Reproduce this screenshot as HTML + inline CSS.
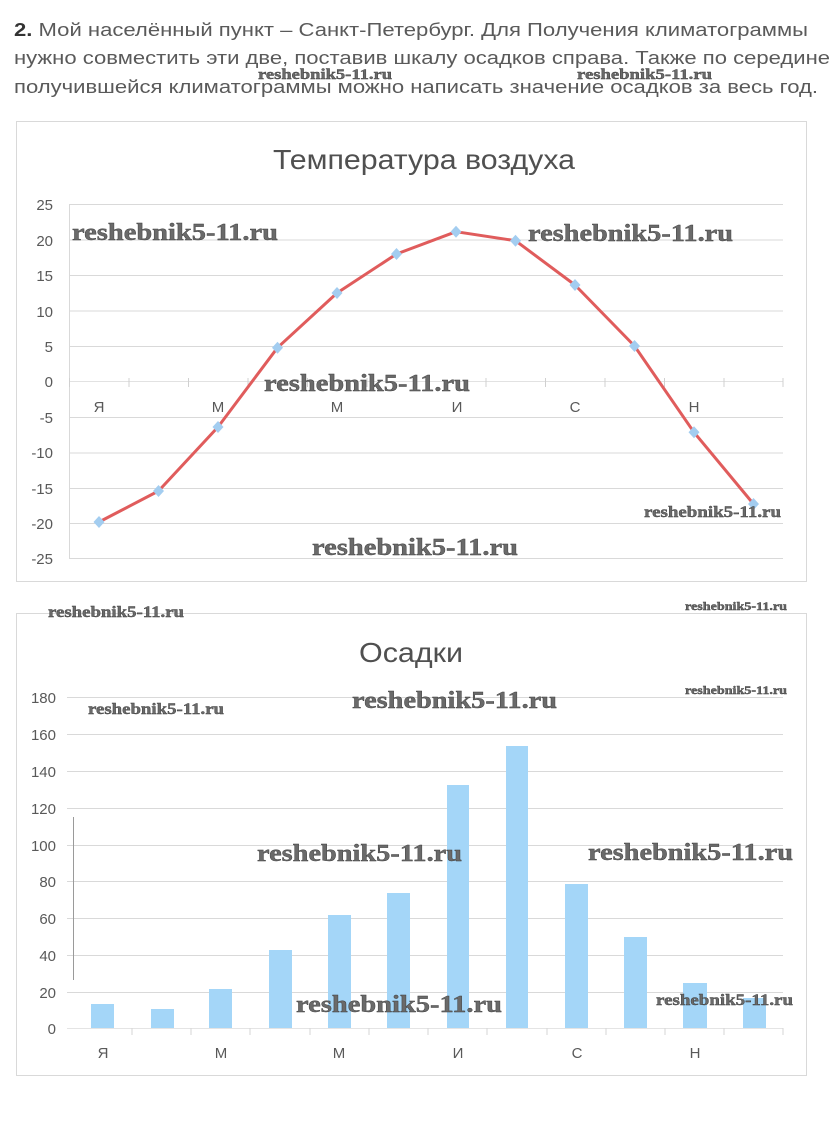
<!DOCTYPE html>
<html><head><meta charset="utf-8"><style>
html,body{margin:0;padding:0;background:#fff;}
svg{display:block;}
.p{font-family:"Liberation Sans","Noto Sans CJK SC",sans-serif;font-size:18px;fill:#5a5a5a;}
.ax{font-family:"Liberation Sans","Noto Sans CJK SC",sans-serif;font-size:15px;fill:#595959;}
.t{font-family:"Liberation Sans","Noto Sans CJK SC",sans-serif;fill:#505050;}
.w{font-family:"Liberation Serif",serif;font-weight:bold;fill:#6a6a6a;stroke:#3a3a3a;stroke-width:0.4;}
</style></head><body>
<svg width="838" height="1137" viewBox="0 0 838 1137" xmlns="http://www.w3.org/2000/svg">
<rect width="838" height="1137" fill="#fff"/>
<!-- paragraph -->
<text class="p" x="14" y="36" textLength="794" lengthAdjust="spacingAndGlyphs"><tspan font-weight="bold" fill="#333">2.</tspan> Мой населённый пункт – Санкт-Петербург. Для Получения климатограммы</text>
<text class="p" x="14" y="64" textLength="816" lengthAdjust="spacingAndGlyphs">нужно совместить эти две, поставив шкалу осадков справа. Также по середине</text>
<text class="p" x="14" y="93" textLength="804" lengthAdjust="spacingAndGlyphs">получившейся климатограммы можно написать значение осадков за весь год.</text>
<text class="w" x="258" y="79" font-size="15" textLength="134" lengthAdjust="spacingAndGlyphs">reshebnik5-11.ru</text>
<text class="w" x="577" y="79" font-size="15" textLength="135" lengthAdjust="spacingAndGlyphs">reshebnik5-11.ru</text>

<!-- Temperature chart -->
<rect x="16.5" y="121.5" width="790" height="460" fill="#fff" stroke="#d9d9d9"/>
<text class="t" x="273" y="169" font-size="28" textLength="302" lengthAdjust="spacingAndGlyphs">Температура воздуха</text>
<g stroke="#d9d9d9" stroke-width="1">
<line x1="69" y1="204.5" x2="783" y2="204.5"/>
<line x1="69" y1="240" x2="783" y2="240"/>
<line x1="69" y1="275.5" x2="783" y2="275.5"/>
<line x1="69" y1="311" x2="783" y2="311"/>
<line x1="69" y1="346.5" x2="783" y2="346.5"/>
<line x1="69" y1="417.5" x2="783" y2="417.5"/>
<line x1="69" y1="453" x2="783" y2="453"/>
<line x1="69" y1="488.5" x2="783" y2="488.5"/>
<line x1="69" y1="523.5" x2="783" y2="523.5"/>
<line x1="69" y1="558.5" x2="783" y2="558.5"/>
<line x1="69.5" y1="204" x2="69.5" y2="558"/>
<line x1="69" y1="381.5" x2="783" y2="381.5" stroke="#e2e2e2"/>
</g>
<g stroke="#d0d0d0">
<line x1="69.5" y1="378" x2="69.5" y2="387"/><line x1="129" y1="378" x2="129" y2="387"/><line x1="188.5" y1="378" x2="188.5" y2="387"/><line x1="248" y1="378" x2="248" y2="387"/><line x1="307.5" y1="378" x2="307.5" y2="387"/><line x1="367" y1="378" x2="367" y2="387"/><line x1="426.5" y1="378" x2="426.5" y2="387"/><line x1="486" y1="378" x2="486" y2="387"/><line x1="545.5" y1="378" x2="545.5" y2="387"/><line x1="605" y1="378" x2="605" y2="387"/><line x1="664.5" y1="378" x2="664.5" y2="387"/><line x1="724" y1="378" x2="724" y2="387"/><line x1="783" y1="378" x2="783" y2="387"/>
</g>
<g class="ax" text-anchor="end">
<text x="53" y="210">25</text><text x="53" y="246">20</text><text x="53" y="281">15</text><text x="53" y="317">10</text><text x="53" y="352">5</text><text x="53" y="387">0</text><text x="53" y="423">-5</text><text x="53" y="458">-10</text><text x="53" y="494">-15</text><text x="53" y="529">-20</text><text x="53" y="564">-25</text>
</g>
<g class="ax" text-anchor="middle">
<text x="99" y="412">Я</text><text x="218" y="412">М</text><text x="337" y="412">М</text><text x="457" y="412">И</text><text x="575" y="412">С</text><text x="694" y="412">Н</text>
</g>
<polyline fill="none" stroke="#e05c5c" stroke-width="3" stroke-linejoin="round" points="99,522 158.5,491 218,427 277.5,347.7 337,293 396.5,254 456,231.7 515.5,240.7 575,285 634.5,346 694,432.3 753.5,504"/>
<g fill="#a3cdf0">
<path d="M99 516l5.5 6-5.5 6-5.5-6z"/><path d="M158.5 485l5.5 6-5.5 6-5.5-6z"/><path d="M218 421l5.5 6-5.5 6-5.5-6z"/><path d="M277.5 341.7l5.5 6-5.5 6-5.5-6z"/><path d="M337 287l5.5 6-5.5 6-5.5-6z"/><path d="M396.5 248l5.5 6-5.5 6-5.5-6z"/><path d="M456 225.7l5.5 6-5.5 6-5.5-6z"/><path d="M515.5 234.7l5.5 6-5.5 6-5.5-6z"/><path d="M575 279l5.5 6-5.5 6-5.5-6z"/><path d="M634.5 340l5.5 6-5.5 6-5.5-6z"/><path d="M694 426.3l5.5 6-5.5 6-5.5-6z"/><path d="M753.5 498l5.5 6-5.5 6-5.5-6z"/>
</g>
<text class="w" x="72" y="240" font-size="24" textLength="206" lengthAdjust="spacingAndGlyphs">reshebnik5-11.ru</text>
<text class="w" x="528" y="241" font-size="24" textLength="205" lengthAdjust="spacingAndGlyphs">reshebnik5-11.ru</text>
<text class="w" x="264" y="391" font-size="24" textLength="206" lengthAdjust="spacingAndGlyphs">reshebnik5-11.ru</text>
<text class="w" x="644" y="517" font-size="16" textLength="137" lengthAdjust="spacingAndGlyphs">reshebnik5-11.ru</text>
<text class="w" x="312" y="555" font-size="24" textLength="206" lengthAdjust="spacingAndGlyphs">reshebnik5-11.ru</text>

<!-- Precipitation chart -->
<rect x="16.5" y="613.5" width="790" height="462" fill="#fff" stroke="#d9d9d9"/>
<text class="t" x="359" y="662" font-size="28" textLength="104" lengthAdjust="spacingAndGlyphs">Осадки</text>
<g stroke="#d9d9d9" stroke-width="1">
<line x1="67" y1="697.5" x2="783" y2="697.5"/>
<line x1="67" y1="734.5" x2="783" y2="734.5"/>
<line x1="67" y1="771.5" x2="783" y2="771.5"/>
<line x1="67" y1="808.5" x2="783" y2="808.5"/>
<line x1="67" y1="845.5" x2="783" y2="845.5"/>
<line x1="67" y1="881.5" x2="783" y2="881.5"/>
<line x1="67" y1="918.5" x2="783" y2="918.5"/>
<line x1="67" y1="955.5" x2="783" y2="955.5"/>
<line x1="67" y1="992.5" x2="783" y2="992.5"/>
<line x1="67" y1="1028.5" x2="783" y2="1028.5" stroke="#e4e4e4"/>
</g>
<line x1="73.5" y1="817" x2="73.5" y2="980" stroke="#9a9a9a"/>
<g stroke="#d6d6d6">
<line x1="132" y1="1028" x2="132" y2="1035"/><line x1="191" y1="1028" x2="191" y2="1035"/><line x1="250" y1="1028" x2="250" y2="1035"/><line x1="310" y1="1028" x2="310" y2="1035"/><line x1="369" y1="1028" x2="369" y2="1035"/><line x1="428" y1="1028" x2="428" y2="1035"/><line x1="487" y1="1028" x2="487" y2="1035"/><line x1="547" y1="1028" x2="547" y2="1035"/><line x1="606" y1="1028" x2="606" y2="1035"/><line x1="665" y1="1028" x2="665" y2="1035"/><line x1="724" y1="1028" x2="724" y2="1035"/><line x1="783" y1="1028" x2="783" y2="1035"/>
</g>
<g class="ax" text-anchor="end">
<text x="56" y="703">180</text><text x="56" y="740">160</text><text x="56" y="777">140</text><text x="56" y="814">120</text><text x="56" y="851">100</text><text x="56" y="887">80</text><text x="56" y="924">60</text><text x="56" y="961">40</text><text x="56" y="998">20</text><text x="56" y="1034">0</text>
</g>
<g class="ax" text-anchor="middle">
<text x="103" y="1058">Я</text><text x="221" y="1058">М</text><text x="339" y="1058">М</text><text x="458" y="1058">И</text><text x="577" y="1058">С</text><text x="695" y="1058">Н</text>
</g>
<g fill="#a4d6f8">
<rect x="91" y="1004" width="23" height="24"/>
<rect x="151" y="1009" width="23" height="19"/>
<rect x="209" y="989" width="23" height="39"/>
<rect x="269" y="950" width="23" height="78"/>
<rect x="328" y="915" width="23" height="113"/>
<rect x="387" y="893" width="23" height="135"/>
<rect x="447" y="785" width="22" height="243"/>
<rect x="506" y="746" width="22" height="282"/>
<rect x="565" y="884" width="23" height="144"/>
<rect x="624" y="937" width="23" height="91"/>
<rect x="683" y="983" width="24" height="45"/>
<rect x="743" y="998" width="23" height="30"/>
</g>
<text class="w" x="48" y="617" font-size="16" textLength="136" lengthAdjust="spacingAndGlyphs">reshebnik5-11.ru</text>
<text class="w" x="685" y="610" font-size="12" textLength="102" lengthAdjust="spacingAndGlyphs">reshebnik5-11.ru</text>
<text class="w" x="685" y="694" font-size="12" textLength="102" lengthAdjust="spacingAndGlyphs">reshebnik5-11.ru</text>
<text class="w" x="88" y="714" font-size="16" textLength="136" lengthAdjust="spacingAndGlyphs">reshebnik5-11.ru</text>
<text class="w" x="352" y="708" font-size="24" textLength="205" lengthAdjust="spacingAndGlyphs">reshebnik5-11.ru</text>
<text class="w" x="257" y="861" font-size="24" textLength="205" lengthAdjust="spacingAndGlyphs">reshebnik5-11.ru</text>
<text class="w" x="588" y="860" font-size="24" textLength="205" lengthAdjust="spacingAndGlyphs">reshebnik5-11.ru</text>
<text class="w" x="296" y="1012" font-size="24" textLength="206" lengthAdjust="spacingAndGlyphs">reshebnik5-11.ru</text>
<text class="w" x="656" y="1005" font-size="16" textLength="137" lengthAdjust="spacingAndGlyphs">reshebnik5-11.ru</text>
</svg>
</body></html>
